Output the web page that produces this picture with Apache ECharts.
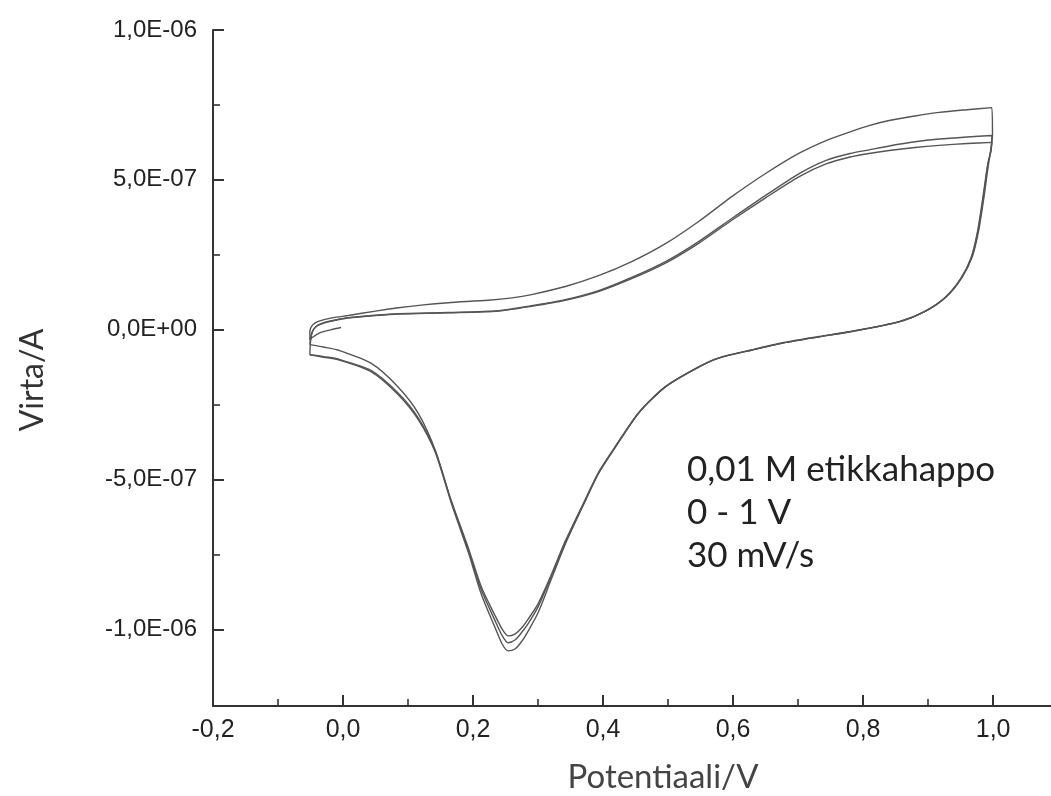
<!DOCTYPE html>
<html>
<head>
<meta charset="utf-8">
<script src="https://cdn.jsdelivr.net/npm/echarts@6/dist/echarts.min.js"></script>
<style>html,body{margin:0;padding:0;background:#fff;}#c{width:1051px;height:796px;}</style>
</head>
<body>
<div id="c"></div>
<script>
// Tick values and labels
const xTickValues = [-0.2, 0.0, 0.2, 0.4, 0.6, 0.8, 1.0];
const xTickLabels = ['-0,2', '0,0', '0,2', '0,4', '0,6', '0,8', '1,0'];
const xMinorTicks = [-0.1, 0.1, 0.3, 0.5, 0.7, 0.9];
const yTickValues = [-1e-6, -5e-7, 0, 5e-7, 1e-6];
const yTickLabels = ['-1,0E-06', '-5,0E-07', '0,0E+00', '5,0E-07', '1,0E-06'];
const yMinorTicks = [-7.5e-7, -2.5e-7, 2.5e-7, 7.5e-7];

// Cycle 1 (potential V, current A)
const cycle1Forward = [
  [-0.003, 0.07e-7], [-0.018, 0.0], [-0.035, -0.10e-7], [-0.048, -0.27e-7], [-0.051, -0.35e-7],
  [-0.051, -0.05e-7], [-0.047, 0.15e-7], [-0.039, 0.27e-7], [-0.015, 0.40e-7], [0.008, 0.47e-7],
  [0.050, 0.62e-7], [0.085, 0.73e-7], [0.120, 0.82e-7], [0.162, 0.90e-7], [0.223, 0.98e-7],
  [0.260, 1.06e-7], [0.290, 1.17e-7], [0.342, 1.44e-7], [0.393, 1.80e-7], [0.444, 2.27e-7],
  [0.496, 2.87e-7], [0.547, 3.61e-7], [0.598, 4.44e-7], [0.650, 5.21e-7], [0.701, 5.88e-7],
  [0.743, 6.31e-7], [0.780, 6.60e-7], [0.809, 6.81e-7], [0.840, 6.98e-7], [0.880, 7.13e-7],
  [0.917, 7.25e-7], [0.960, 7.34e-7], [0.998, 7.41e-7]
];
const cycle1Reverse = [
  [0.999, 6.50e-7], [0.994, 5.68e-7], [0.991, 5.24e-7], [0.986, 4.44e-7], [0.978, 3.34e-7],
  [0.968, 2.44e-7], [0.952, 1.74e-7], [0.928, 1.10e-7], [0.897, 0.63e-7], [0.855, 0.27e-7],
  [0.778, -0.07e-7], [0.732, -0.23e-7], [0.678, -0.43e-7], [0.629, -0.67e-7], [0.578, -0.94e-7],
  [0.547, -1.24e-7], [0.496, -1.90e-7], [0.455, -2.77e-7], [0.419, -3.91e-7], [0.393, -4.80e-7],
  [0.373, -5.70e-7], [0.342, -7.15e-7], [0.320, -8.35e-7], [0.300, -9.45e-7], [0.285, -10.05e-7],
  [0.275, -10.40e-7], [0.265, -10.65e-7], [0.254, -10.72e-7], [0.245, -10.50e-7], [0.234, -9.95e-7],
  [0.213, -8.85e-7], [0.193, -7.45e-7], [0.166, -5.75e-7], [0.142, -4.10e-7], [0.116, -3.01e-7],
  [0.085, -2.17e-7], [0.043, -1.40e-7], [-0.008, -1.00e-7], [-0.030, -0.92e-7], [-0.051, -0.84e-7]
];

// Cycle 2
const cycle2Forward = [
  [-0.051, -0.84e-7], [-0.050, -0.40e-7], [-0.047, -0.05e-7], [-0.040, 0.13e-7], [-0.031, 0.22e-7],
  [-0.010, 0.33e-7], [0.008, 0.40e-7], [0.050, 0.48e-7], [0.085, 0.53e-7], [0.162, 0.57e-7],
  [0.239, 0.63e-7], [0.290, 0.80e-7], [0.342, 1.00e-7], [0.393, 1.30e-7], [0.444, 1.74e-7],
  [0.496, 2.27e-7], [0.547, 2.94e-7], [0.598, 3.71e-7], [0.650, 4.48e-7], [0.701, 5.20e-7],
  [0.743, 5.65e-7], [0.780, 5.88e-7], [0.809, 6.00e-7], [0.840, 6.13e-7], [0.880, 6.27e-7],
  [0.917, 6.36e-7], [0.960, 6.43e-7], [0.998, 6.48e-7]
];
const cycle2Reverse = [
  [0.997, 6.00e-7], [0.993, 5.65e-7], [0.990, 5.22e-7], [0.985, 4.42e-7], [0.977, 3.32e-7],
  [0.967, 2.42e-7], [0.951, 1.72e-7], [0.927, 1.08e-7], [0.896, 0.62e-7], [0.855, 0.26e-7],
  [0.778, -0.08e-7], [0.732, -0.24e-7], [0.678, -0.44e-7], [0.629, -0.68e-7], [0.578, -0.95e-7],
  [0.547, -1.25e-7], [0.496, -1.91e-7], [0.455, -2.78e-7], [0.419, -3.92e-7], [0.393, -4.79e-7],
  [0.373, -5.68e-7], [0.342, -7.10e-7], [0.320, -8.25e-7], [0.300, -9.25e-7], [0.285, -9.80e-7],
  [0.275, -10.10e-7], [0.265, -10.35e-7], [0.254, -10.45e-7], [0.245, -10.22e-7], [0.234, -9.72e-7],
  [0.213, -8.70e-7], [0.193, -7.38e-7], [0.166, -5.70e-7], [0.142, -4.03e-7], [0.116, -2.80e-7],
  [0.085, -1.92e-7], [0.043, -1.12e-7], [-0.008, -0.68e-7], [-0.030, -0.58e-7], [-0.051, -0.50e-7]
];

// Cycle 3
const cycle3Forward = [
  [-0.051, -0.50e-7], [-0.049, -0.20e-7], [-0.045, 0.02e-7], [-0.038, 0.15e-7], [-0.028, 0.23e-7],
  [-0.010, 0.32e-7], [0.008, 0.39e-7], [0.050, 0.47e-7], [0.085, 0.52e-7], [0.162, 0.56e-7],
  [0.239, 0.62e-7], [0.290, 0.78e-7], [0.342, 0.98e-7], [0.393, 1.27e-7], [0.444, 1.70e-7],
  [0.496, 2.22e-7], [0.547, 2.88e-7], [0.598, 3.65e-7], [0.650, 4.40e-7], [0.701, 5.10e-7],
  [0.743, 5.53e-7], [0.780, 5.76e-7], [0.809, 5.88e-7], [0.840, 5.98e-7], [0.880, 6.08e-7],
  [0.917, 6.15e-7], [0.960, 6.21e-7], [0.998, 6.25e-7]
];
const cycle3Reverse = [
  [0.996, 5.90e-7], [0.992, 5.55e-7], [0.989, 5.15e-7], [0.984, 4.38e-7], [0.976, 3.28e-7],
  [0.966, 2.40e-7], [0.950, 1.70e-7], [0.926, 1.07e-7], [0.895, 0.61e-7], [0.854, 0.25e-7],
  [0.778, -0.08e-7], [0.732, -0.24e-7], [0.678, -0.44e-7], [0.629, -0.68e-7], [0.578, -0.95e-7],
  [0.547, -1.25e-7], [0.496, -1.90e-7], [0.455, -2.76e-7], [0.419, -3.89e-7], [0.393, -4.76e-7],
  [0.373, -5.65e-7], [0.342, -7.05e-7], [0.320, -8.20e-7], [0.300, -9.15e-7], [0.285, -9.65e-7],
  [0.275, -9.95e-7], [0.265, -10.15e-7], [0.254, -10.22e-7], [0.245, -10.00e-7], [0.234, -9.55e-7],
  [0.213, -8.60e-7], [0.193, -7.30e-7], [0.166, -5.68e-7], [0.142, -4.06e-7], [0.116, -2.95e-7],
  [0.085, -2.12e-7], [0.043, -1.36e-7], [-0.008, -0.98e-7], [-0.030, -0.90e-7], [-0.051, -0.84e-7]
];

const annotationLines = ['0,01 M etikkahappo', '0 - 1 V', '30 mV/s'];

const chart = echarts.init(document.getElementById('c'), null, {renderer: 'canvas'});
const axisColor = '#333';
const lineSeries = (name, data) => ({
  name, type: 'line', data, showSymbol: false, smooth: 0.25,
  lineStyle: {color: '#555', width: 1.4}, xAxisIndex: 0, yAxisIndex: 0, z: 3
});

chart.setOption({
  animation: false,
  backgroundColor: '#fff',
  grid: {left: 213, top: 30, right: 0, bottom: 90, containLabel: false},
  xAxis: [{
    type: 'value', min: -0.2, max: 1.089,
    axisLine: {show: true, onZero: false, lineStyle: {color: axisColor, width: 2}},
    axisTick: {show: true, inside: true, length: 11, lineStyle: {color: axisColor, width: 2}, customValues: xTickValues},
    axisLabel: {show: true, margin: 12, fontFamily: 'Liberation Sans', fontSize: 25, color: '#222', customValues: xTickValues,
      formatter: v => { const i = xTickValues.findIndex(t => Math.abs(t - v) < 1e-6); return i >= 0 ? xTickLabels[i] : ''; }},
    splitLine: {show: false}
  }, {
    type: 'value', min: -0.2, max: 1.089, position: 'bottom',
    axisLine: {show: false, onZero: false},
    axisTick: {show: true, inside: true, length: 7, lineStyle: {color: axisColor, width: 1.6}, customValues: xMinorTicks},
    axisLabel: {show: false}, splitLine: {show: false}
  }],
  yAxis: [{
    type: 'value', min: -1.256e-6, max: 1e-6,
    axisLine: {show: true, onZero: false, lineStyle: {color: axisColor, width: 2}},
    axisTick: {show: true, inside: true, length: 11, lineStyle: {color: axisColor, width: 2}, customValues: yTickValues},
    axisLabel: {show: true, margin: 16, fontFamily: 'Liberation Sans', fontSize: 24, color: '#222', customValues: yTickValues,
      formatter: v => { const i = yTickValues.findIndex(t => Math.abs(t - v) < 1e-12); return i >= 0 ? yTickLabels[i] : ''; }},
    splitLine: {show: false}
  }, {
    type: 'value', min: -1.256e-6, max: 1e-6, position: 'left',
    axisLine: {show: false, onZero: false},
    axisTick: {show: true, inside: true, length: 7, lineStyle: {color: axisColor, width: 1.6}, customValues: yMinorTicks},
    axisLabel: {show: false}, splitLine: {show: false}
  }],
  series: [
    lineSeries('Sykli 1', cycle1Forward.concat(cycle1Reverse)),
    lineSeries('Sykli 2', cycle2Forward.concat(cycle2Reverse)),
    lineSeries('Sykli 3', cycle3Forward.concat(cycle3Reverse))
  ],
  graphic: [
    {type: 'text', x: 663, y: 777, style: {text: 'Potentiaali/V', align: 'center', verticalAlign: 'middle',
      fontFamily: 'Lato', fontSize: 33, fill: '#444'}},
    {type: 'text', x: 33, y: 380, rotation: Math.PI / 2, style: {text: 'Virta/A', align: 'center', verticalAlign: 'middle',
      fontFamily: 'Lato', fontSize: 32, fill: '#333'}},
    {type: 'text', x: 687, y: 470, style: {text: annotationLines[0], align: 'left', verticalAlign: 'middle',
      fontFamily: 'Lato', fontSize: 35, fill: '#222'}},
    {type: 'text', x: 687, y: 513, style: {text: annotationLines[1], align: 'left', verticalAlign: 'middle',
      fontFamily: 'Lato', fontSize: 35, fill: '#222'}},
    {type: 'text', x: 687, y: 556, style: {text: annotationLines[2], align: 'left', verticalAlign: 'middle',
      fontFamily: 'Lato', fontSize: 35, fill: '#222'}}
  ]
});
</script>
</body>
</html>
